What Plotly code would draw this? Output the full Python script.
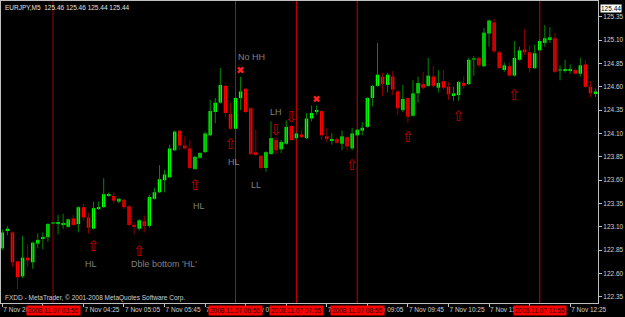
import plotly.graph_objects as go
import pandas as pd

# ---------------- data ----------------
times = pd.date_range("2008-11-07 03:05", periods=118, freq="5min")

open_ = [122.87,123.06,123.04,122.73,122.57,122.77,122.72,122.92,122.97,122.99,
         123.14,123.14,123.13,123.10,123.19,123.13,123.31,123.20,123.08,123.30,
         123.31,123.44,123.43,123.37,123.39,123.32,123.12,123.08,123.16,123.11,
         123.40,123.47,123.60,123.63,123.92,124.13,123.97,123.94,123.72,123.84,
         123.90,124.08,124.33,124.43,124.61,124.31,124.15,124.48,124.58,124.37,
         123.90,123.86,123.73,123.88,124.03,123.93,123.99,124.18,124.05,124.09,
         124.05,124.26,124.33,124.34,124.07,124.02,124.04,123.99,124.06,123.94,
         124.08,124.13,124.17,124.48,124.61,124.71,124.62,124.71,124.55,124.35,
         124.48,124.29,124.53,124.63,124.61,124.71,124.59,124.66,124.60,124.51,
         124.51,124.64,124.63,124.89,124.91,124.82,125.17,125.29,124.97,124.78,
         124.82,124.72,124.89,125.00,124.97,124.80,124.99,125.07,125.11,125.12,
         124.77,124.77,124.77,124.78,124.74,124.84,124.60,124.53]
high = [123.07,123.11,123.05,122.74,123.00,122.91,122.94,123.03,123.04,123.14,
        123.15,123.23,123.24,123.19,123.23,123.32,123.35,123.25,123.37,123.37,
        123.62,123.47,123.47,123.41,123.40,123.33,123.15,123.18,123.22,123.44,
        123.52,123.76,123.71,123.98,124.13,124.14,124.07,124.03,123.86,123.90,
        124.12,124.46,124.48,124.80,124.62,124.43,124.49,124.71,124.59,124.38,
        124.14,123.87,123.91,124.23,124.06,124.03,124.24,124.19,124.11,124.14,
        124.32,124.40,124.40,124.35,124.16,124.10,124.06,124.13,124.07,124.16,
        124.15,124.22,124.49,124.62,125.07,124.75,124.75,124.77,124.57,124.62,
        124.49,124.67,124.71,124.76,124.91,124.82,124.78,124.78,124.65,124.60,
        124.66,124.71,124.91,124.93,124.92,125.23,125.32,125.33,124.99,124.86,
        124.86,125.09,125.03,125.22,125.04,125.05,125.11,125.26,125.24,125.18,
        124.83,124.89,124.84,124.80,124.91,124.89,124.66,124.58]
low = [122.85,123.01,122.67,122.43,122.55,122.67,122.65,122.87,122.86,122.94,
       123.13,123.02,123.08,123.09,123.11,123.04,123.17,123.03,123.07,123.28,
       123.30,123.42,123.35,123.35,123.29,123.11,123.02,123.06,123.04,123.09,
       123.39,123.46,123.47,123.62,123.91,123.92,123.93,123.72,123.71,123.83,
       123.89,124.07,124.21,124.42,124.28,124.14,124.14,124.35,124.32,123.87,
       123.86,123.72,123.69,123.87,123.88,123.89,123.98,124.02,124.04,124.05,
       124.04,124.23,124.30,124.03,124.01,123.98,123.99,123.92,123.92,123.92,
       124.07,124.08,124.16,124.39,124.60,124.50,124.54,124.51,124.30,124.33,
       124.21,124.28,124.43,124.57,124.60,124.59,124.54,124.57,124.46,124.45,
       124.45,124.58,124.62,124.72,124.81,124.81,125.03,124.96,124.79,124.76,
       124.71,124.71,124.88,124.94,124.75,124.79,124.98,125.03,125.07,124.75,
       124.67,124.75,124.74,124.73,124.71,124.59,124.49,124.49]
close = [123.04,123.08,122.72,122.56,122.77,122.74,122.93,122.96,122.99,123.13,
         123.14,123.15,123.14,123.18,123.12,123.31,123.20,123.09,123.30,123.31,
         123.45,123.45,123.38,123.40,123.31,123.12,123.10,123.17,123.11,123.42,
         123.47,123.61,123.66,123.94,124.12,123.97,123.94,123.73,123.85,123.89,
         124.10,124.34,124.43,124.62,124.32,124.15,124.48,124.55,124.33,123.88,
         123.87,123.73,123.90,124.05,123.92,124.01,124.17,124.03,124.10,124.06,
         124.26,124.32,124.35,124.08,124.05,124.04,124.00,124.07,123.96,124.10,
         124.14,124.16,124.48,124.61,124.73,124.63,124.73,124.57,124.37,124.47,
         124.28,124.53,124.64,124.59,124.72,124.61,124.64,124.59,124.52,124.53,
         124.65,124.61,124.89,124.89,124.83,125.18,125.31,124.98,124.80,124.83,
         124.72,124.91,124.99,124.97,124.80,124.96,125.09,125.12,125.13,124.76,
         124.77,124.79,124.79,124.74,124.83,124.60,124.53,124.55]

# indicator arrows / marks (bar index, price)
up_arrow_idx = [18, 27, 38, 45, 69, 80, 90, 101]
up_arrow_price = [122.88, 122.83, 123.53, 123.97, 123.75, 124.05, 124.27, 124.50]
down_arrow_idx = [54, 57]
down_arrow_price = [124.12, 124.26]
cross_idx = [47, 62]
cross_price = [124.78, 124.47]

# text notes (bar position, price, text)
note_pos = [17.5, 31.9, 38.8, 49.2, 45.7, 54.0, 50.0]
note_price = [122.70, 122.70, 123.32, 124.92, 123.79, 124.33, 123.55]
note_text = ["HL", "Dble bottom 'HL'", "HL", "No HH", "HL", "LH", "LL"]

# period separator lines
sep_times = ["2008-11-07 03:55", "2008-11-07 06:55", "2008-11-07 07:55",
             "2008-11-07 08:55", "2008-11-07 11:55"]
sep_labels = ["2008.11.07 03:55", "2008.11.07 06:55", "2008.11.07 07:55",
              "2008.11.07 08:55", "2008.11.07 11:55"]

# axis ticks
x_tick_times = pd.date_range("2008-11-07 03:05", "2008-11-07 12:25", freq="40min")
x_tick_labels = ["7 Nov 2008", "7 Nov 03:45", "7 Nov 04:25", "7 Nov 05:05", "7 Nov 05:45",
                 "7 Nov 06:25", "7 Nov 07:05", "7 Nov 07:45", "7 Nov 08:25", "7 Nov 09:05",
                 "7 Nov 09:45", "7 Nov 10:25", "7 Nov 11:05", "7 Nov 11:45", "7 Nov 12:25"]
y_tick_vals = [122.35, 122.60, 122.85, 123.10, 123.35, 123.60, 123.85,
               124.10, 124.35, 124.60, 124.85, 125.10, 125.35]
last_price = 125.44
header = "EURJPY,M5  125.46 125.46 125.44 125.44"
copyright_text = "FXDD - MetaTrader, \u00a9 2001-2008 MetaQuotes Software Corp."

# ---------------- figure ----------------
FONT = "Liberation Sans, Arial, sans-serif"
BULL_BODY, BULL_WICK = "#00ff00", "#008a00"
BEAR_BODY, BEAR_WICK = "#ff0000", "#8e0000"
bar_ms = 5 * 60 * 1000

fig = go.Figure()

# wicks
for bull in (True, False):
    xs, ys = [], []
    for t, o, h, l, c in zip(times, open_, high, low, close):
        if (c >= o) == bull:
            xs += [t, t, None]
            ys += [l, h, None]
    fig.add_trace(go.Scatter(x=xs, y=ys, mode="lines",
                             line=dict(color=BULL_WICK if bull else BEAR_WICK, width=1),
                             hoverinfo="skip"))

# bodies
base = [min(o, c) for o, c in zip(open_, close)]
height = [max(abs(c - o), 0.012) for o, c in zip(open_, close)]
colors = []
for o, c in zip(open_, close):
    if abs(c - o) < 0.005:
        colors.append(BULL_WICK)
    elif c > o:
        colors.append(BULL_BODY)
    else:
        colors.append(BEAR_BODY)
fig.add_trace(go.Bar(x=times, y=height, base=base, width=0.68 * bar_ms,
                     marker=dict(color=colors, line=dict(width=0)), hoverinfo="skip"))

# arrows
fig.add_trace(go.Scatter(x=[times[i] for i in up_arrow_idx], y=up_arrow_price, mode="text",
                         text=["\u21e7"] * len(up_arrow_idx),
                         textfont=dict(color="#c00000", size=15, family="DejaVu Sans")))
fig.add_trace(go.Scatter(x=[times[i] for i in down_arrow_idx], y=down_arrow_price, mode="text",
                         text=["\u21e9"] * len(down_arrow_idx),
                         textfont=dict(color="#c00000", size=15, family="DejaVu Sans")))
fig.add_trace(go.Scatter(x=[times[i] for i in cross_idx], y=cross_price, mode="markers",
                         marker=dict(symbol="x", size=6, color="#ff2020", line=dict(width=0))))

# notes
t0 = times[0]
for p, pr, tx in zip(note_pos, note_price, note_text):
    fig.add_annotation(x=t0 + pd.Timedelta(minutes=5 * p), y=pr, text=tx, showarrow=False,
                       font=dict(family=FONT, size=9, color="#808080"))

# separators
for k, (st, lab) in enumerate(zip(sep_times, sep_labels)):
    col = "#a00000" if k == 0 else "#d00000"
    fig.add_shape(type="line", x0=st, x1=st, y0=0, y1=1, xref="x", yref="paper",
                  line=dict(color=col, width=1), layer="below")
    fig.add_annotation(x=st, y=0, xref="x", yref="paper", yanchor="top", yshift=-2,
                       text=lab, showarrow=False, bgcolor="#ff0000", borderpad=1,
                       font=dict(family=FONT, size=6.5, color="#200000"))

fig.add_annotation(x=0, y=1, xref="paper", yref="paper", xanchor="left", yanchor="top",
                   xshift=2, yshift=-1, text=header, showarrow=False,
                   font=dict(family=FONT, size=6.5, color="#e0e0e0"))
fig.add_annotation(x=0, y=0, xref="paper", yref="paper", xanchor="left", yanchor="bottom",
                   xshift=2, yshift=-1, text=copyright_text, showarrow=False,
                   font=dict(family=FONT, size=6.5, color="#d0d0d0"))
fig.add_annotation(x=1, y=last_price, xref="paper", yref="y", xanchor="left", yanchor="middle",
                   xshift=2, text=f"{last_price:.2f}", showarrow=False, bgcolor="#ffffff",
                   borderpad=0, font=dict(family=FONT, size=6.5, color="#000000"))

fig.update_layout(
    width=625, height=317,
    margin=dict(l=1, r=27, t=1, b=14),
    paper_bgcolor="#000000", plot_bgcolor="#000000",
    showlegend=False, barmode="overlay",
    xaxis=dict(type="date", range=["2008-11-07 03:03:43", "2008-11-07 12:52:27"],
               tickvals=list(x_tick_times), ticktext=x_tick_labels, tickangle=0,
               ticklabelposition="outside right", ticks="outside", ticklen=3,
               tickcolor="#c0c0c0", showgrid=False, zeroline=False, automargin=False,
               showline=True, linecolor="#c0c0c0", linewidth=1, mirror=True,
               tickfont=dict(family=FONT, size=6.5, color="#d0d0d0"), fixedrange=True),
    yaxis=dict(side="right", range=[122.284, 125.519], tickvals=y_tick_vals,
               ticktext=[f"{v:.2f}" for v in y_tick_vals], ticks="outside", ticklen=3,
               tickcolor="#c0c0c0", showgrid=False, zeroline=False, automargin=False,
               showline=True, linecolor="#c0c0c0", linewidth=1, mirror=True,
               tickfont=dict(family=FONT, size=6.5, color="#d0d0d0"), fixedrange=True),
)

fig.write_html("out.html")
